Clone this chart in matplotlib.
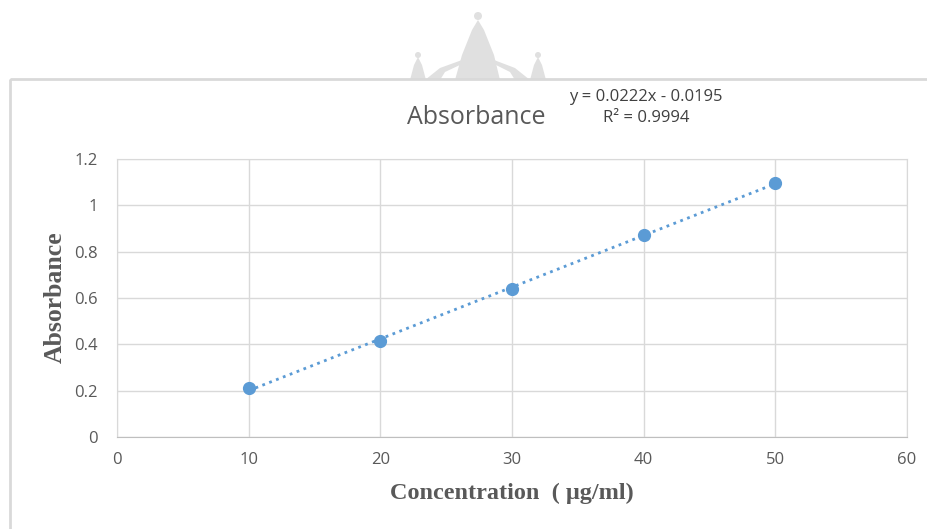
import numpy as np
import matplotlib.pyplot as plt
from matplotlib.patches import Polygon, Circle, Rectangle
from matplotlib.transforms import Affine2D

# data
conc = [10, 20, 30, 40, 50]
absorb = [0.211, 0.414, 0.638, 0.873, 1.098]
xticks = [0, 10, 20, 30, 40, 50, 60]
yticks = [0, 0.2, 0.4, 0.6, 0.8, 1.0, 1.2]
ytick_labels = ['0', '0.2', '0.4', '0.6', '0.8', '1', '1.2']

W, H = 928, 529
fig = plt.figure(figsize=(W / 100, H / 100), dpi=100)

# pixel transform (origin top-left)
px = Affine2D().scale(1 / W, -1 / H).translate(0, 1) + fig.transFigure

# faint watermark behind the chart
wm = '#e0e0e0'
fig.patches.append(Polygon([(455, 80), (462, 55), (472, 30), (478, 20), (484, 30),
                            (494, 55), (500, 80)], closed=True, transform=px,
                           facecolor=wm, edgecolor='none'))
fig.patches.append(Polygon([(425, 80), (440, 68), (462, 60), (462, 64), (445, 72), (440, 80)],
                           closed=True, transform=px, facecolor=wm, edgecolor='none'))
fig.patches.append(Polygon([(530, 80), (515, 68), (494, 60), (494, 64), (510, 72), (515, 80)],
                           closed=True, transform=px, facecolor=wm, edgecolor='none'))
fig.patches.append(Polygon([(410, 80), (414, 65), (418, 57), (422, 65), (426, 80)],
                           closed=True, transform=px, facecolor=wm, edgecolor='none'))
fig.patches.append(Polygon([(530, 80), (534, 65), (538, 57), (542, 65), (546, 80)],
                           closed=True, transform=px, facecolor=wm, edgecolor='none'))
for cx, cy, r in [(478, 16, 4), (418, 55, 3), (538, 55, 3)]:
    fig.patches.append(Circle((cx, cy), r, transform=px, facecolor=wm, edgecolor='none'))

# chart border
fig.patches.append(Rectangle((10, 79), 930, 470, transform=px, fill=False,
                             edgecolor='#d9d9d9', linewidth=2, clip_on=False))

ax = fig.add_axes([117 / W, 1 - 437 / H, 790 / W, 278 / H])
ax.set_xlim(0, 60)
ax.set_ylim(0, 1.2)
ax.set_xticks(xticks)
ax.set_yticks(yticks)
ax.set_yticklabels(ytick_labels)
ax.grid(True, color='#d9d9d9', linewidth=1)
ax.set_axisbelow(True)
for s in ax.spines.values():
    s.set_color('#d9d9d9')
ax.spines['bottom'].set_color('#bfbfbf')
ax.tick_params(length=0, labelsize=12, labelcolor='#595959')
ax.tick_params(axis='x', pad=11)
ax.tick_params(axis='y', pad=14)
for lab in ax.get_xticklabels() + ax.get_yticklabels():
    lab.set_family('Open Sans')

blue = '#5b9bd5'
slope, icpt = np.polyfit(conc, absorb, 1)
xx = np.array([conc[0], conc[-1]])
ax.plot(xx, slope * xx + icpt, linestyle=':', color=blue, linewidth=2)
ax.plot(conc, absorb, 'o', color=blue, markersize=8.5, zorder=3)

fig.text(512 / W, 1 - 493 / H, 'Concentration  ( μg/ml)', family='Liberation Serif',
         fontweight='bold', fontsize=17.5, color='#595959', ha='center', va='center')
fig.text(55 / W, 1 - 297 / H, 'Absorbance', family='Liberation Serif', fontweight='bold',
         fontsize=18.5, color='#595959', ha='center', va='center', rotation=90)

fig.text(476 / W, 1 - 118 / H, 'Absorbance', family='Open Sans', fontsize=18,
         color='#595959', ha='center', va='center')
fig.text(646 / W, 1 - 97 / H, 'y = 0.0222x - 0.0195', family='Open Sans', fontsize=12,
         color='#404040', ha='center', va='center')
fig.text(646 / W, 1 - 118 / H, 'R² = 0.9994', family='Open Sans', fontsize=12,
         color='#404040', ha='center', va='center')

fig.savefig('out.png', dpi=100, facecolor='white')
